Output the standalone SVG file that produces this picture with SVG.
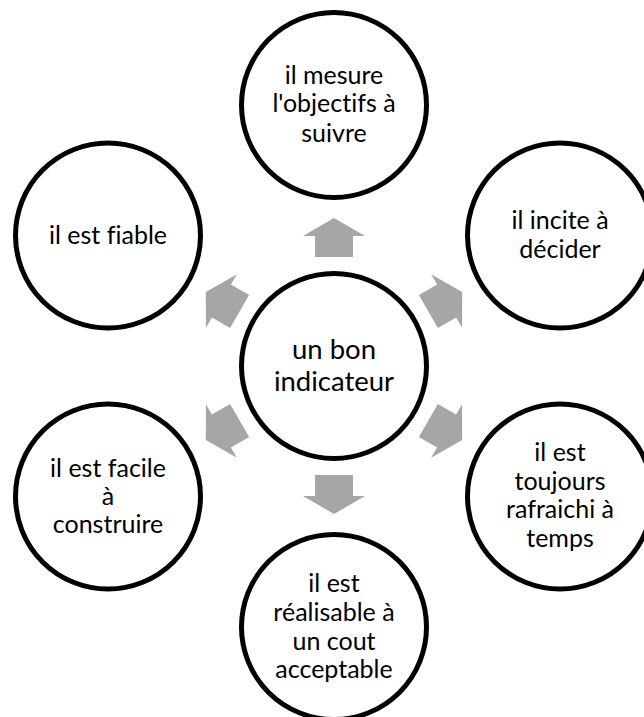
<svg xmlns="http://www.w3.org/2000/svg" width="644" height="717" viewBox="0 0 644 717">
  <style>
    .node circle { fill: #ffffff; stroke: #000000; stroke-width: 5; }
    .node text { font-family: Lato, "Liberation Sans", sans-serif; font-size: 25px; fill: #000000; text-anchor: middle; font-variant-ligatures: none; }
    #hub text { font-size: 27.5px; }
    .arrow { fill: #a6a6a6; stroke: none; }
  </style>
  <defs>
    <!-- block arrow pointing up, origin at the hub centre -->
    <path id="arrowUp" class="arrow" d="M0,-148 L31,-130 L19,-130 L19,-109 L-19,-109 L-19,-130 L-31,-130 Z"/>
  </defs>

  <g id="connectors" transform="translate(334 366)">
    <use href="#arrowUp" transform="rotate(0)"/>
    <use href="#arrowUp" transform="rotate(60)"/>
    <use href="#arrowUp" transform="rotate(120)"/>
    <use href="#arrowUp" transform="rotate(180)"/>
    <use href="#arrowUp" transform="rotate(240)"/>
    <use href="#arrowUp" transform="rotate(300)"/>
  </g>

  <g id="hub" class="node">
    <circle cx="334" cy="366" r="92.5"/>
    <text x="334" y="358.5">un bon</text>
    <text x="334" y="390.7">indicateur</text>
  </g>

  <g id="node-top" class="node">
    <circle cx="334" cy="105" r="92.5"/>
    <text x="334" y="83.5">il mesure</text>
    <text x="334" y="112">l'objectifs à</text>
    <text x="334" y="141.5">suivre</text>
  </g>

  <g id="node-top-right" class="node">
    <circle cx="560" cy="235.5" r="92.5"/>
    <text x="560" y="229">il incite à</text>
    <text x="560" y="257.7">décider</text>
  </g>

  <g id="node-bottom-right" class="node">
    <circle cx="560" cy="496.5" r="92.5"/>
    <text x="560" y="461">il est</text>
    <text x="560" y="489.8">toujours</text>
    <text x="560" y="518.4">rafraichi à</text>
    <text x="560" y="547">temps</text>
  </g>

  <g id="node-bottom" class="node">
    <circle cx="334" cy="627" r="92.5"/>
    <text x="334" y="591.7">il est</text>
    <text x="334" y="620.6">réalisable à</text>
    <text x="334" y="649.5">un cout</text>
    <text x="334" y="678.3">acceptable</text>
  </g>

  <g id="node-bottom-left" class="node">
    <circle cx="108" cy="496.5" r="92.5"/>
    <text x="108" y="476.7">il est facile</text>
    <text x="108" y="505">à</text>
    <text x="108" y="533.3">construire</text>
  </g>

  <g id="node-top-left" class="node">
    <circle cx="108" cy="235.5" r="92.5"/>
    <text x="108" y="243.5">il est fiable</text>
  </g>
</svg>
